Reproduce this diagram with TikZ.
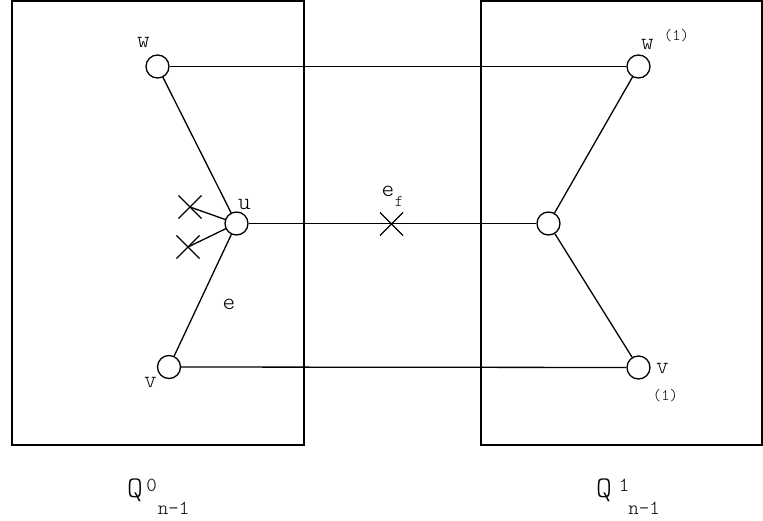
\documentclass[tikz,border=0pt]{standalone}
\usepackage{fontspec}
\setmonofont{Latin Modern Mono Light}
\usetikzlibrary{shapes.misc}
\begin{document}
\begin{tikzpicture}[x=1pt,y=-1pt,
    vtx/.style={circle,draw,line width=1.3pt,minimum size=23pt,inner sep=0pt},
    cut/.style={cross out,draw,line width=1.1pt,minimum size=22pt,inner sep=0pt},
    lbl/.style={anchor=base,inner sep=0pt,font=\ttfamily\fontsize{24}{24}\selectfont},
    sml/.style={anchor=base,inner sep=0pt,font=\ttfamily\fontsize{16}{16}\selectfont},
    big/.style={anchor=base,inner sep=0pt,font=\ttfamily\fontsize{30}{30}\selectfont},
    scr/.style={anchor=base,inner sep=0pt,font=\ttfamily\fontsize{20}{20}\selectfont},
    edge/.style={line width=1.3pt}]
  \useasboundingbox (0,0) rectangle (763,521);
  % the two subcubes
  \draw[line width=1.6pt] (12,0.8) rectangle (304,445);
  \draw[line width=1.6pt] (481,0.8) rectangle (762,445);
  % vertices
  \node[vtx] (w) at (157.5,66.5) {};
  \node[vtx] (u) at (236.5,223.5) {};
  \node[vtx] (v) at (169,367) {};
  \node[vtx] (w1) at (638.5,66.5) {};
  \node[vtx] (m) at (548.5,223.5) {};
  \node[vtx] (v1) at (638.5,367.5) {};
  % faulty edges
  \node[cut] (x1) at (190,207) {};
  \node[cut] (x2) at (188,247) {};
  \node[cut] (xf) at (391.5,224) {};
  \draw[edge] (w) -- (w1);
  \draw[edge] (v) -- (v1);
  \draw[edge] (u) -- (m);
  \draw[edge] (w) -- (u) -- (v);
  \draw[edge] (w1) -- (m) -- (v1);
  \foreach \x in {x1,x2} \draw[edge] (u) -- (\x.center);
  % labels
  \node[lbl] (lw) at (143.5,48) {w};
  \node[lbl] (lu) at (244.5,210) {u};
  \node[lbl] (lv) at (150.5,387) {v};
  \node[lbl] (le) at (229,309) {e};
  \node[lbl] (lef) at (388,197) {e};
  \node[sml] (lf) at (399,207) {f};
  \node[lbl] (lw1) at (647.5,50) {w};
  \node[sml] (lw1s) at (676.5,41) {(1)};
  \node[lbl] (lv1) at (662.5,373) {v};
  \node[sml] (lv1s) at (665.5,400) {(1)};
  \foreach \n/\q/\s/\qx/\sx/\nx in {Q0/Q/0/135/151.5/173.5,Q1/Q/1/604/624/644} {
    \node[big] (\n) at (\qx,497) {\q};
    \node[scr] (\n s) at (\sx,491) {\s};
    \node[scr] (\n n) at (\nx,514) {n-1};
  }
\end{tikzpicture}
\end{document}
